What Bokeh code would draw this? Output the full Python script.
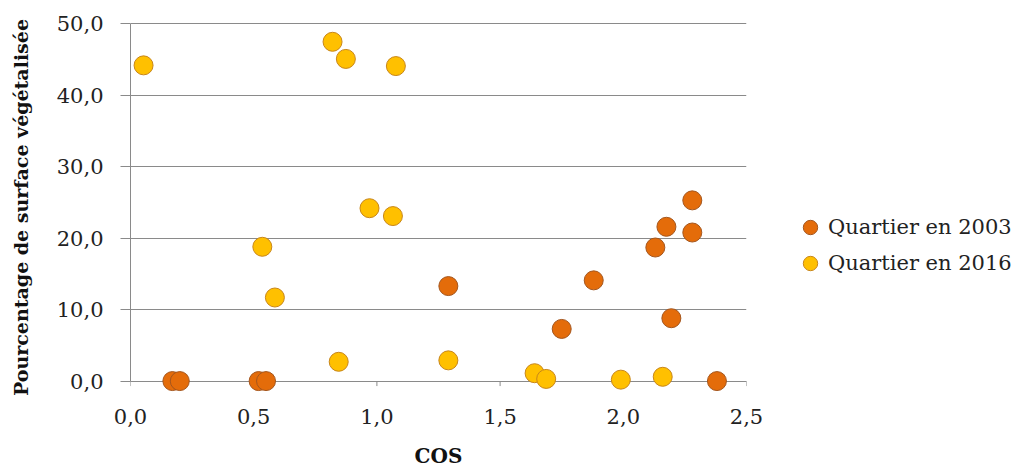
from bokeh.plotting import figure
from bokeh.models import Range1d, Legend, LegendItem, CustomJSTickFormatter, FixedTicker
from bokeh.embed import file_html
from bokeh.resources import INLINE

# Data
x_2003 = [0.17, 0.20, 0.52, 0.55, 1.29, 1.75, 1.88, 2.13, 2.175, 2.195, 2.28, 2.28, 2.38]
y_2003 = [0.0, 0.0, 0.0, 0.0, 13.3, 7.3, 14.1, 18.7, 21.6, 8.8, 20.8, 25.3, 0.0]

x_2016 = [0.053, 0.82, 0.874, 1.077, 0.97, 1.065, 0.535, 0.586, 0.845, 1.29, 1.64, 1.687, 1.99, 2.16]
y_2016 = [44.2, 47.5, 45.1, 44.1, 24.2, 23.1, 18.8, 11.7, 2.7, 2.9, 1.1, 0.3, 0.2, 0.6]

series_labels = ["Quartier en 2003", "Quartier en 2016"]
x_ticks = [0.0, 0.5, 1.0, 1.5, 2.0, 2.5]
y_ticks = [0, 10, 20, 30, 40, 50]
x_title = "COS"
y_title = "Pourcentage de surface végétalisée"

FONT = "DejaVu Serif"
GRID = "#8a8a8a"

p = figure(frame_width=616, frame_height=370, x_range=Range1d(0, 2.5), y_range=Range1d(-1.6, 50.2),
           output_backend="svg", toolbar_location=None,
           min_border_left=130, min_border_top=22, min_border_bottom=76, min_border_right=270)
p.outline_line_color = None
p.background_fill_color = "white"

# small tick marks below the zero line, at the x tick positions
p.segment(x0=x_ticks, y0=[0] * len(x_ticks), x1=x_ticks, y1=[-0.7] * len(x_ticks),
          line_color=GRID, line_width=1)

r1 = p.scatter(x_2003, y_2003, size=19, fill_color="#E46C0A", line_color="#A4561E", line_width=1)
r2 = p.scatter(x_2016, y_2016, size=19, fill_color="#FFC000", line_color="#C8861A", line_width=1)

fmt = CustomJSTickFormatter(code="return tick.toFixed(1).replace('.', ',');")

# y axis
p.yaxis.ticker = FixedTicker(ticks=y_ticks)
p.yaxis.bounds = (0, 50)
p.yaxis.formatter = fmt
p.yaxis.axis_line_color = GRID
p.yaxis.major_tick_line_color = GRID
p.yaxis.major_tick_out = 10
p.yaxis.major_tick_in = 0
p.yaxis.minor_tick_line_color = None
p.yaxis.major_label_text_font = FONT
p.yaxis.major_label_text_font_size = "21px"
p.yaxis.major_label_text_color = "#222222"
p.yaxis.major_label_standoff = 17
p.yaxis.axis_label = y_title
p.yaxis.axis_label_text_font = FONT
p.yaxis.axis_label_text_font_style = "bold"
p.yaxis.axis_label_text_font_size = "19px"
p.yaxis.axis_label_text_color = "#111111"
p.yaxis.axis_label_standoff = 22

# x axis (line drawn by the zero gridline)
p.xaxis.ticker = FixedTicker(ticks=x_ticks)
p.xaxis.formatter = fmt
p.xaxis.axis_line_color = None
p.xaxis.major_tick_line_color = None
p.xaxis.major_tick_out = 0
p.xaxis.major_tick_in = 0
p.xaxis.minor_tick_line_color = None
p.xaxis.major_label_text_font = FONT
p.xaxis.major_label_text_font_size = "21px"
p.xaxis.major_label_text_color = "#222222"
p.xaxis.major_label_standoff = 16
p.xaxis.axis_label = x_title
p.xaxis.axis_label_text_font = FONT
p.xaxis.axis_label_text_font_style = "bold"
p.xaxis.axis_label_text_font_size = "20px"
p.xaxis.axis_label_text_color = "#111111"
p.xaxis.axis_label_standoff = 17

# grid
p.xgrid.grid_line_color = None
p.ygrid.ticker = FixedTicker(ticks=y_ticks)
p.ygrid.grid_line_color = GRID
p.ygrid.grid_line_width = 1

legend = Legend(items=[LegendItem(label=series_labels[0], renderers=[r1]),
                       LegendItem(label=series_labels[1], renderers=[r2])],
                location=(46, 111), glyph_width=36, glyph_height=36, spacing=0,
                padding=0, margin=0, border_line_color=None, background_fill_alpha=0,
                label_text_font=FONT, label_text_font_size="21px", label_text_color="#222222",
                label_standoff=0)
p.add_layout(legend, "right")

open("out.html", "w").write(file_html(p, INLINE))
